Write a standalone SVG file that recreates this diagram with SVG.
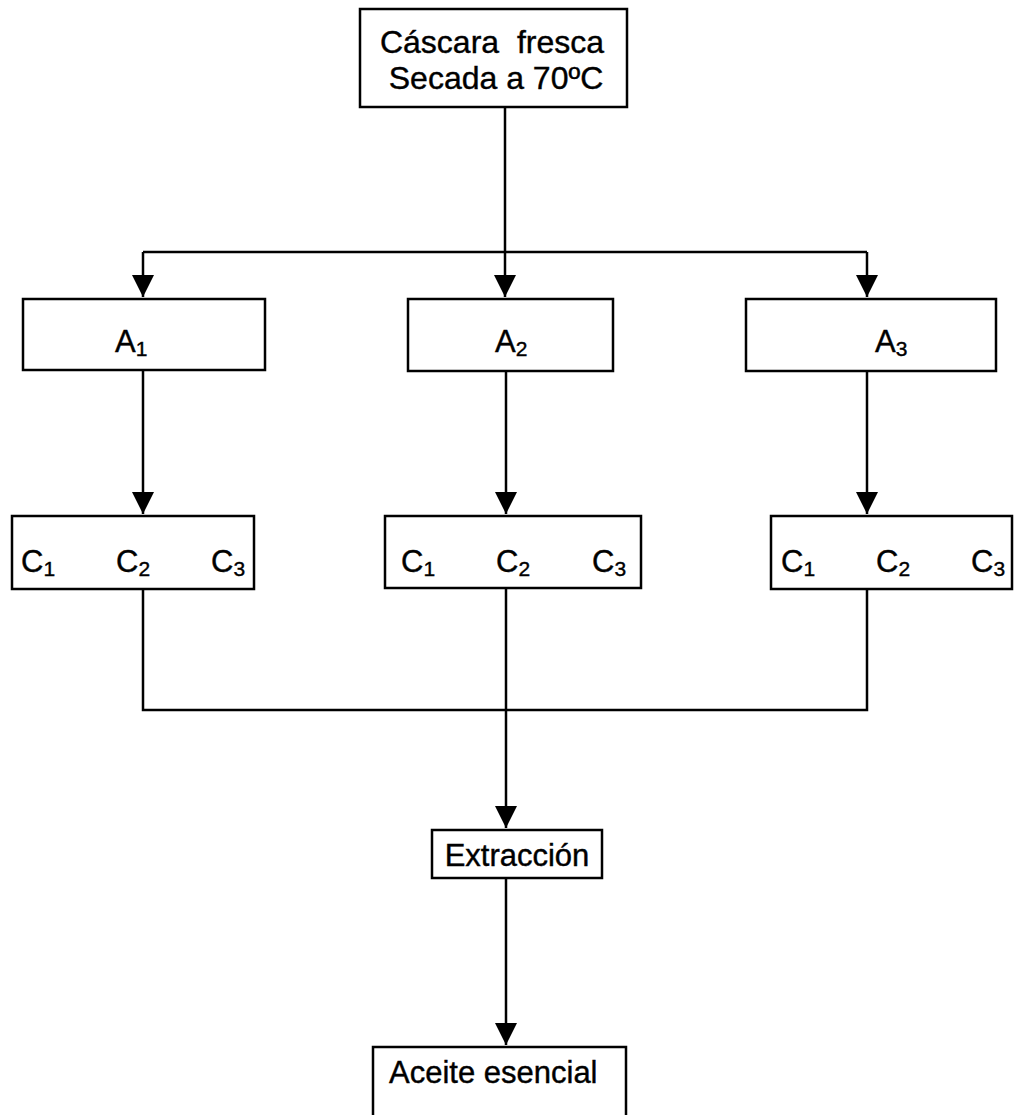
<svg xmlns="http://www.w3.org/2000/svg" width="1014" height="1115" viewBox="0 0 1014 1115">
  <style>
    .box { fill: #fff; stroke: #000; stroke-width: 2.5; }
    .wire { fill: none; stroke: #000; stroke-width: 2.5; }
    .lbl { font-family: "Liberation Sans", Arial, sans-serif; font-size: 31px; fill: #000; stroke: #000; stroke-width: 0.4; }
    .big { font-size: 32px; }
    .sub { font-size: 21px; }
  </style>
  <defs>
    <marker id="arrow" markerUnits="userSpaceOnUse" markerWidth="24" markerHeight="22" refX="22" refY="11" orient="auto">
      <path d="M0,0 L22,11 L0,22 Z" fill="#000"/>
    </marker>
  </defs>
  <rect width="1014" height="1115" fill="#fff"/>

  <g id="connectors">
    <!-- split from the dried peel to the three A treatments -->
    <path class="wire" d="M505,107 V297" marker-end="url(#arrow)"/>
    <path class="wire" d="M143,252 H867"/>
    <path class="wire" d="M143,252 V297" marker-end="url(#arrow)"/>
    <path class="wire" d="M867,252 V297" marker-end="url(#arrow)"/>
    <!-- A to C -->
    <path class="wire" d="M143,370 V514" marker-end="url(#arrow)"/>
    <path class="wire" d="M506,371 V514" marker-end="url(#arrow)"/>
    <path class="wire" d="M867,371 V514" marker-end="url(#arrow)"/>
    <!-- merge into extraction -->
    <path class="wire" d="M143,589 V710 H867 V589"/>
    <path class="wire" d="M506,589 V828" marker-end="url(#arrow)"/>
    <path class="wire" d="M506,878 V1045" marker-end="url(#arrow)"/>
  </g>

  <g id="node-source">
    <rect class="box" x="360" y="9" width="267" height="98"/>
    <text class="lbl big" x="492" y="53" text-anchor="middle" xml:space="preserve">Cáscara  fresca</text>
    <text class="lbl big" x="496" y="89" text-anchor="middle">Secada a 70ºC</text>
  </g>

  <g id="node-a1">
    <rect class="box" x="23" y="299" width="242" height="71"/>
    <text class="lbl" x="115" y="352">A<tspan class="sub" dy="4">1</tspan></text>
  </g>
  <g id="node-a2">
    <rect class="box" x="408" y="299" width="205" height="72"/>
    <text class="lbl" x="495" y="352">A<tspan class="sub" dy="4">2</tspan></text>
  </g>
  <g id="node-a3">
    <rect class="box" x="746" y="299" width="250" height="72"/>
    <text class="lbl" x="875" y="352">A<tspan class="sub" dy="4">3</tspan></text>
  </g>

  <g id="node-c-a1">
    <rect class="box" x="12" y="516" width="242" height="73"/>
    <text class="lbl" x="21" y="572">C<tspan class="sub" dy="4">1</tspan></text>
    <text class="lbl" x="116" y="572">C<tspan class="sub" dy="4">2</tspan></text>
    <text class="lbl" x="211" y="572">C<tspan class="sub" dy="4">3</tspan></text>
  </g>
  <g id="node-c-a2">
    <rect class="box" x="385" y="516" width="256" height="72"/>
    <text class="lbl" x="401" y="572">C<tspan class="sub" dy="4">1</tspan></text>
    <text class="lbl" x="496" y="572">C<tspan class="sub" dy="4">2</tspan></text>
    <text class="lbl" x="592" y="572">C<tspan class="sub" dy="4">3</tspan></text>
  </g>
  <g id="node-c-a3">
    <rect class="box" x="771" y="516" width="241" height="73"/>
    <text class="lbl" x="781" y="572">C<tspan class="sub" dy="4">1</tspan></text>
    <text class="lbl" x="876" y="572">C<tspan class="sub" dy="4">2</tspan></text>
    <text class="lbl" x="971" y="572">C<tspan class="sub" dy="4">3</tspan></text>
  </g>

  <g id="node-extraccion">
    <rect class="box" x="432" y="830" width="170" height="48"/>
    <text class="lbl" x="517" y="866" text-anchor="middle">Extracción</text>
  </g>

  <g id="node-aceite">
    <rect class="box" x="373" y="1047" width="253" height="90"/>
    <text class="lbl" x="389" y="1083">Aceite esencial</text>
  </g>
</svg>
